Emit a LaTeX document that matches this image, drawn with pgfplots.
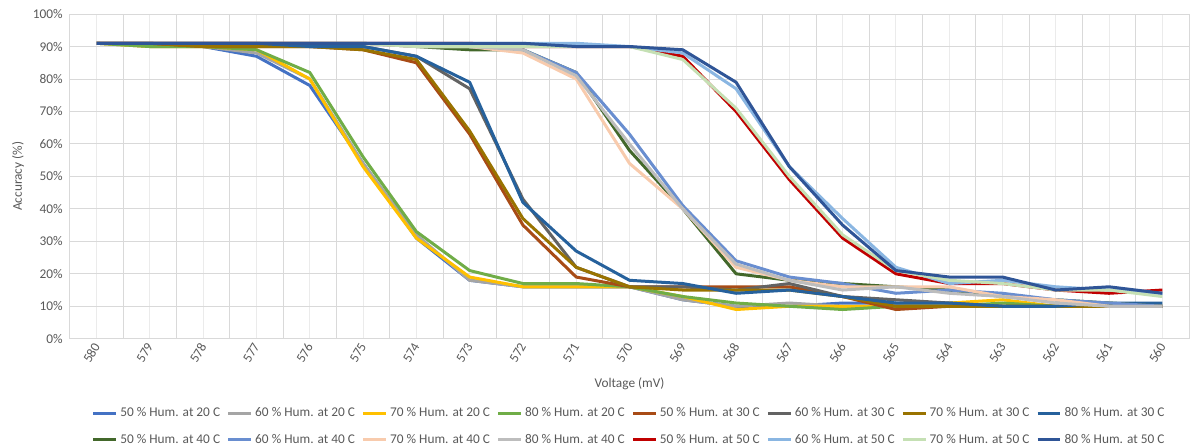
\documentclass[border=0pt]{standalone}
\usepackage{pgfplots}
\usepackage{pgfplotstable}
\pgfplotsset{compat=1.18}
\usepackage{fontspec}
\setmainfont{Carlito}
\definecolor{cA}{HTML}{4472C4}
\definecolor{cB}{HTML}{A5A5A5}
\definecolor{cC}{HTML}{FFC000}
\definecolor{cD}{HTML}{70AD47}
\definecolor{cE}{HTML}{A84B16}
\definecolor{cF}{HTML}{636363}
\definecolor{cG}{HTML}{997300}
\definecolor{cH}{HTML}{26619C}
\definecolor{cI}{HTML}{43682B}
\definecolor{cJ}{HTML}{698ED0}
\definecolor{cK}{HTML}{F8CBAD}
\definecolor{cL}{HTML}{BDBDBD}
\definecolor{cM}{HTML}{C00000}
\definecolor{cN}{HTML}{8AB6E2}
\definecolor{cO}{HTML}{C5E0B4}
\definecolor{cP}{HTML}{2F5597}
\definecolor{txt}{HTML}{595959}
\pgfplotstableread{
x s1 s2 s3 s4 s5 s6 s7 s8 s9 s10 s11 s12 s13 s14 s15 s16
0 91 91 91 91 91 91 91 91 91 91 91 91 91 91 91 91
1 91 90 90 90 91 91 91 91 91 91 91 91 91 91 91 91
2 90 90 90 90 90 91 90 91 91 91 91 91 91 91 91 91
3 87 88 89 89 90 91 90 91 91 91 91 91 91 91 91 91
4 78 80 80 82 90 90 90 90 91 91 91 91 91 91 91 91
5 54 54 53 56 89 90 89 90 91 91 91 91 91 91 91 91
6 31 32 31 33 85 87 86 87 90 91 90 90 91 91 90 91
7 18 18 19 21 63 77 64 79 89 90 90 90 91 91 90 91
8 16 16 16 17 35 43 37 42 89 89 88 89 90 91 90 91
9 16 16 16 17 19 22 22 27 82 82 80 81 90 91 90 90
10 16 16 16 16 16 16 16 18 58 63 54 60 90 90 90 90
11 12 12 13 13 16 16 15 17 40 41 40 40 87 88 86 89
12 10 10 9 11 16 15 15 14 20 24 22 23 70 77 71 79
13 10 11 10 10 16 17 15 15 18 19 18 18 49 53 50 53
14 11 10 10 9 13 13 13 13 17 17 16 15 31 37 32 35
15 11 10 10 10 9 12 10 11 16 14 16 16 20 22 21 21
16 11 10 11 10 10 11 10 11 15 15 16 14 17 17 18 19
17 10 10 12 11 10 10 10 10 13 14 13 13 17 18 17 19
18 10 10 10 10 10 10 10 10 12 12 12 11 15 16 15 15
19 10 10 10 10 10 10 10 11 11 11 10 10 14 15 15 16
20 10 10 10 10 10 10 10 11 10 10 10 10 15 14 13 14
}\datatab
\begin{document}
\begin{tikzpicture}
\useasboundingbox (-52.5pt,-81.2pt) rectangle (848.25pt,254.05pt);
\begin{axis}[
  scale only axis,
  width=839.25pt, height=243.5pt,
  xmin=-0.5, xmax=20.5, ymin=0, ymax=100,
  xtick={0,...,20},
  xticklabels={580,579,578,577,576,575,574,573,572,571,570,569,568,567,566,565,564,563,562,561,560},
  minor xtick={-0.5,0.5,...,20.5},
  ytick={0,10,...,100},
  yticklabels={0\%,10\%,20\%,30\%,40\%,50\%,60\%,70\%,80\%,90\%,100\%},
  xmajorgrids, xminorgrids, ymajorgrids,
  major x grid style={color=black!8, line width=0.75pt},
  minor x grid style={color=black!15, line width=0.75pt},
  major y grid style={color=black!15, line width=0.75pt},
  major tick length=0pt, minor tick length=0pt,
  axis line style={draw=none},
  axis x line*=bottom,
  x axis line style={draw=black!15, line width=0.75pt},
  axis y line*=left,
  y axis line style={draw=none},
  tick label style={font=\fontsize{10}{12}\selectfont, text=txt},
  yticklabel style={xshift=-2pt},
  xticklabel style={rotate=60, anchor=east, yshift=-2pt},
  xlabel={Voltage (mV)},
  ylabel={Accuracy (\%)},
  label style={font=\fontsize{10}{12}\selectfont, text=txt},
  xlabel style={at={(axis description cs:0.5,0)}, anchor=center, yshift=-34pt},
  ylabel style={at={(axis description cs:-0.0465,0.5)}, anchor=center, rotate=0},
  legend columns=8,
  legend style={draw=none, fill=none, at={(axis description cs:0.5,0)}, anchor=north, yshift=-47.5pt,
    font=\fontsize{10}{12}\selectfont, text=txt,
    /tikz/every even column/.append style={column sep=3pt},
    row sep=7.5pt},
  legend cell align=left,
  every axis plot/.append style={line width=2.25pt, line join=round, mark=none},
]
\addplot[cA] table[x=x,y=s1]{\datatab};
\addlegendentry{50 \% Hum. at 20 C}
\addplot[cB] table[x=x,y=s2]{\datatab};
\addlegendentry{60 \% Hum. at 20 C}
\addplot[cC] table[x=x,y=s3]{\datatab};
\addlegendentry{70 \% Hum. at 20 C}
\addplot[cD] table[x=x,y=s4]{\datatab};
\addlegendentry{80 \% Hum. at 20 C}
\addplot[cE] table[x=x,y=s5]{\datatab};
\addlegendentry{50 \% Hum. at 30 C}
\addplot[cF] table[x=x,y=s6]{\datatab};
\addlegendentry{60 \% Hum. at 30 C}
\addplot[cG] table[x=x,y=s7]{\datatab};
\addlegendentry{70 \% Hum. at 30 C}
\addplot[cH] table[x=x,y=s8]{\datatab};
\addlegendentry{80 \% Hum. at 30 C}
\addplot[cI] table[x=x,y=s9]{\datatab};
\addlegendentry{50 \% Hum. at 40 C}
\addplot[cJ] table[x=x,y=s10]{\datatab};
\addlegendentry{60 \% Hum. at 40 C}
\addplot[cK] table[x=x,y=s11]{\datatab};
\addlegendentry{70 \% Hum. at 40 C}
\addplot[cL] table[x=x,y=s12]{\datatab};
\addlegendentry{80 \% Hum. at 40 C}
\addplot[cM] table[x=x,y=s13]{\datatab};
\addlegendentry{50 \% Hum. at 50 C}
\addplot[cN] table[x=x,y=s14]{\datatab};
\addlegendentry{60 \% Hum. at 50 C}
\addplot[cO] table[x=x,y=s15]{\datatab};
\addlegendentry{70 \% Hum. at 50 C}
\addplot[cP] table[x=x,y=s16]{\datatab};
\addlegendentry{80 \% Hum. at 50 C}
\end{axis}
\end{tikzpicture}
\end{document}
